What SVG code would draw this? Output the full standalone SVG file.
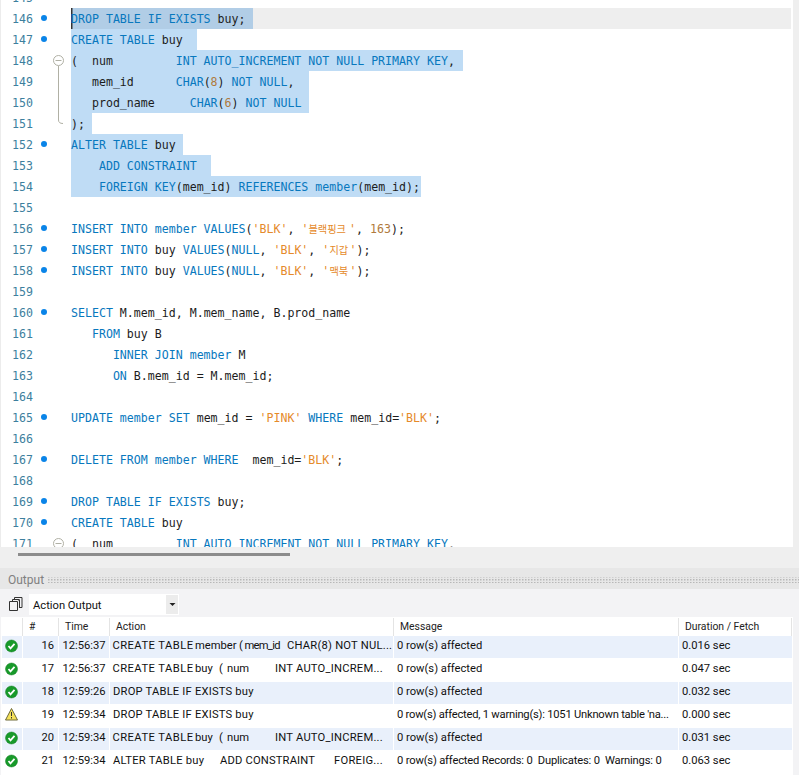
<svg xmlns="http://www.w3.org/2000/svg" width="799" height="775" viewBox="0 0 799 775">
<style>
text{white-space:pre}
.c{font-family:"DejaVu Sans Mono","Liberation Mono",monospace;font-size:11.6px;fill:#1c1c1c}
.k{fill:#0878be}
.d{fill:#1c1c1c}
.s{fill:#e58a2a}
.n{fill:#b07a3c}
.ko{font-family:"Noto Sans CJK KR",sans-serif;font-size:10.2px;fill:#e58a2a}
.ln{font-family:"DejaVu Sans Mono","Liberation Mono",monospace;font-size:11.6px;fill:#3d7f9e;text-anchor:end}
.u{font-family:Roboto,"Liberation Sans",Arial,sans-serif;font-size:11.2px;fill:#111}
.h{font-family:Roboto,"Liberation Sans",Arial,sans-serif;font-size:10.4px;fill:#222}
.r{text-anchor:end}
.sel{fill:#bfdcf5}
.dot{fill:#0a84e8}
.alt{fill:#e9f0fb}
.sep{fill:#fff}
.hs{fill:#e4e4e4}
</style>
<defs>
<clipPath id="ed"><rect x="0" y="0" width="793" height="547"/></clipPath>
<pattern id="dots" width="3" height="3" patternUnits="userSpaceOnUse"><rect width="1.500" height="1.500" fill="#b8b8b8"/></pattern>
<g id="ok"><circle cx="0" cy="0" r="6" fill="#189a2a" stroke="#0f7a1e" stroke-width="0.500"/><path d="M-3 0L-1 2.300L3 -2.200" fill="none" stroke="#fff" stroke-width="1.800"/></g>
</defs>
<rect width="799" height="775" fill="#f3f3f5"/>
<rect y="547" width="799" height="21" fill="#efefef"/>
<rect x="793" width="6" height="547" fill="#efefef"/>
<rect width="793" height="547" fill="#fff"/>
<rect width="1" height="547" fill="#ececec"/>
<g id="editor" clip-path="url(#ed)">
<rect x="71" y="8" width="720" height="21" fill="#eeeeee"/>
<rect x="71" y="8" width="182" height="21" fill="#b1cde6"/>
<rect class="sel" x="71" y="29" width="126" height="21"/>
<rect class="sel" x="71" y="50" width="392" height="21"/>
<rect class="sel" x="71" y="71" width="238" height="21"/>
<rect class="sel" x="71" y="92" width="238" height="21"/>
<rect class="sel" x="71" y="113" width="21" height="21"/>
<rect class="sel" x="71" y="134" width="112" height="21"/>
<rect class="sel" x="71" y="155" width="140" height="21"/>
<rect class="sel" x="71" y="176" width="350" height="21"/>
<rect x="71" y="8" width="1.500" height="21" fill="#333"/>
<g id="linenums">
<text class="ln" x="33" y="2">145</text>
<text class="ln" x="33" y="23">146</text><text class="ln" x="33" y="44">147</text><text class="ln" x="33" y="65">148</text><text class="ln" x="33" y="86">149</text><text class="ln" x="33" y="107">150</text><text class="ln" x="33" y="128">151</text><text class="ln" x="33" y="149">152</text><text class="ln" x="33" y="170">153</text><text class="ln" x="33" y="191">154</text><text class="ln" x="33" y="212">155</text><text class="ln" x="33" y="233">156</text><text class="ln" x="33" y="254">157</text><text class="ln" x="33" y="275">158</text><text class="ln" x="33" y="296">159</text><text class="ln" x="33" y="317">160</text><text class="ln" x="33" y="338">161</text><text class="ln" x="33" y="359">162</text><text class="ln" x="33" y="380">163</text><text class="ln" x="33" y="401">164</text><text class="ln" x="33" y="422">165</text><text class="ln" x="33" y="443">166</text><text class="ln" x="33" y="464">167</text><text class="ln" x="33" y="485">168</text><text class="ln" x="33" y="506">169</text><text class="ln" x="33" y="527">170</text><text class="ln" x="33" y="548">171</text>
</g>
<g id="dots-gutter">
<circle class="dot" cx="44" cy="18" r="3"/><circle class="dot" cx="44" cy="39" r="3"/><circle class="dot" cx="44" cy="144" r="3"/><circle class="dot" cx="44" cy="228" r="3"/><circle class="dot" cx="44" cy="249" r="3"/><circle class="dot" cx="44" cy="270" r="3"/><circle class="dot" cx="44" cy="312" r="3"/><circle class="dot" cx="44" cy="417" r="3"/><circle class="dot" cx="44" cy="459" r="3"/><circle class="dot" cx="44" cy="501" r="3"/><circle class="dot" cx="44" cy="522" r="3"/>
</g>
<g id="fold" fill="none" stroke="#b0b0a4">
<path d="M58.500 66V120Q58.500 123.500 63 123.500"/>
<circle cx="58.500" cy="60.500" r="5" fill="#fff"/><path d="M55.500 60.500H61.500"/>
<circle cx="58.500" cy="543.500" r="5" fill="#fff"/><path d="M55.500 543.500H61.500"/>
</g>
<g id="code" class="c">
<text x="71" y="23"><tspan class="k">DROP TABLE IF EXISTS</tspan> buy;</text>
<text x="71" y="44"><tspan class="k">CREATE TABLE</tspan> buy</text>
<text x="71" y="65">(  num         <tspan class="k">INT AUTO_INCREMENT NOT NULL PRIMARY KEY</tspan>,</text>
<text x="71" y="86">   mem_id      <tspan class="k">CHAR</tspan>(<tspan class="n">8</tspan>) <tspan class="k">NOT NULL</tspan>,</text>
<text x="71" y="107">   prod_name     <tspan class="k">CHAR</tspan>(<tspan class="n">6</tspan>) <tspan class="k">NOT NULL</tspan></text>
<text x="71" y="128">);</text>
<text x="71" y="149"><tspan class="k">ALTER TABLE</tspan> buy</text>
<text x="71" y="170" class="k">    ADD CONSTRAINT</text>
<text x="71" y="191">    <tspan class="k">FOREIGN KEY</tspan>(mem_id) <tspan class="k">REFERENCES member</tspan>(mem_id);</text>
<text x="71" y="233"><tspan class="k">INSERT INTO member VALUES</tspan>(<tspan class="s">'BLK'</tspan>, <tspan class="s">'</tspan></text>
<text class="ko" x="308.500" y="233">블랙핑크</text>
<text x="349" y="233"><tspan class="s">'</tspan>, <tspan class="n">163</tspan>);</text>
<text x="71" y="254"><tspan class="k">INSERT INTO</tspan> buy <tspan class="k">VALUES</tspan>(<tspan class="k">NULL</tspan>, <tspan class="s">'BLK'</tspan>, <tspan class="s">'</tspan></text>
<text class="ko" x="329.500" y="254">지갑</text>
<text x="349.500" y="254"><tspan class="s">'</tspan>);</text>
<text x="71" y="275"><tspan class="k">INSERT INTO</tspan> buy <tspan class="k">VALUES</tspan>(<tspan class="k">NULL</tspan>, <tspan class="s">'BLK'</tspan>, <tspan class="s">'</tspan></text>
<text class="ko" x="329.500" y="275">맥북</text>
<text x="349.500" y="275"><tspan class="s">'</tspan>);</text>
<text x="71" y="317"><tspan class="k">SELECT</tspan> M.mem_id, M.mem_name, B.prod_name</text>
<text x="71" y="338">   <tspan class="k">FROM</tspan> buy B</text>
<text x="71" y="359" class="k">      INNER JOIN member <tspan class="d">M</tspan></text>
<text x="71" y="380">      <tspan class="k">ON</tspan> B.mem_id = M.mem_id;</text>
<text x="71" y="422"><tspan class="k">UPDATE member SET</tspan> mem_id = <tspan class="s">'PINK'</tspan> <tspan class="k">WHERE</tspan> mem_id=<tspan class="s">'BLK'</tspan>;</text>
<text x="71" y="464"><tspan class="k">DELETE FROM member WHERE</tspan>  mem_id=<tspan class="s">'BLK'</tspan>;</text>
<text x="71" y="506"><tspan class="k">DROP TABLE IF EXISTS</tspan> buy;</text>
<text x="71" y="527"><tspan class="k">CREATE TABLE</tspan> buy</text>
<text x="71" y="548">(  num         <tspan class="k">INT AUTO_INCREMENT NOT NULL PRIMARY KEY</tspan>,</text>
</g>
</g>
<rect x="18" y="553" width="272" height="3" fill="#8c8c8c"/>
<g id="output-title">
<rect x="0" y="568" width="799" height="21" fill="#e7e7e7"/>
<text x="8" y="584" font-family="Roboto,Liberation Sans,Arial,sans-serif" font-size="12" fill="#808080">Output</text>
<rect x="47" y="577" width="752" height="6" fill="url(#dots)"/>
</g>
<g id="toolbar">
<path d="M9.500 601.500h8v9h-8zM12.500 601V599.500h6.500V601M14.500 599.500V597.500h7.500v10h-2.500M19.500 599.500V608" fill="none" stroke="#333"/>
<rect x="29" y="594" width="150" height="21" fill="#fff"/>
<rect x="166" y="595" width="12" height="19" fill="#ececec"/>
<path d="M169.500 603h6l-3 3z" fill="#222"/>
<text class="u" x="33" y="609">Action Output</text>
</g>
<g id="table">
<rect x="1" y="617" width="792" height="158" fill="#fff"/>
<rect class="alt" x="2" y="636" width="790" height="22"/>
<rect class="alt" x="2" y="682" width="790" height="22"/>
<rect class="alt" x="2" y="728" width="790" height="22"/>
<rect class="hs" x="22" y="618" width="1" height="18"/><rect class="hs" x="58" y="618" width="1" height="18"/><rect class="hs" x="109" y="618" width="1" height="18"/><rect class="hs" x="393" y="618" width="1" height="18"/><rect class="hs" x="678" y="618" width="1" height="18"/><rect class="hs" x="791" y="618" width="1" height="18"/>
<rect class="sep" x="22" y="636" width="1" height="114"/><rect class="sep" x="58" y="636" width="1" height="114"/><rect class="sep" x="109" y="636" width="1" height="114"/><rect class="sep" x="393" y="636" width="1" height="114"/><rect class="sep" x="678" y="636" width="1" height="114"/>
<text class="h" x="29" y="630">#</text><text class="h" x="65" y="630">Time</text><text class="h" x="116" y="630">Action</text><text class="h" x="400" y="630">Message</text><text class="h" x="685" y="630">Duration / Fetch</text>
<use href="#ok" x="11.500" y="646"/><use href="#ok" x="11.500" y="669"/><use href="#ok" x="11.500" y="692"/><use href="#ok" x="11.500" y="738"/><use href="#ok" x="11.500" y="761"/>
<path d="M11.500 708.500L17.500 720H5.500Z" fill="#f5e15a" stroke="#6e6a3a"/><path d="M11.500 712V716M11.500 717V718.500" stroke="#333"/>
</g>
<g id="rows">
<g id="row16"><text class="u r" x="54" y="649">16</text><text class="u" x="62.500" y="649">12:56:37</text><text class="u" x="112.500" y="649" textLength="80.500">CREATE TABLE</text><text class="u" x="195" y="649">member</text><text class="u" x="239" y="649">(</text><text class="u" x="244.500" y="649" textLength="36">mem_id</text><text class="u" x="287" y="649" textLength="105">CHAR(8) NOT NUL...</text><text class="u" x="397" y="649">0 row(s) affected</text><text class="u" x="682" y="649">0.016 sec</text></g>
<g id="row17"><text class="u r" x="54" y="672">17</text><text class="u" x="62.500" y="672">12:56:37</text><text class="u" x="112.500" y="672" textLength="80.500">CREATE TABLE</text><text class="u" x="195" y="672">buy</text><text class="u" x="219" y="672">(</text><text class="u" x="227" y="672">num</text><text class="u" x="275" y="672" textLength="107.700">INT AUTO_INCREM...</text><text class="u" x="397" y="672">0 row(s) affected</text><text class="u" x="682" y="672">0.047 sec</text></g>
<g id="row18"><text class="u r" x="54" y="695">18</text><text class="u" x="62.500" y="695">12:59:26</text><text class="u" x="113" y="695" textLength="140.500">DROP TABLE IF EXISTS buy</text><text class="u" x="397" y="695">0 row(s) affected</text><text class="u" x="682" y="695">0.032 sec</text></g>
<g id="row19"><text class="u r" x="54" y="718">19</text><text class="u" x="62.500" y="718">12:59:34</text><text class="u" x="113" y="718" textLength="140.500">DROP TABLE IF EXISTS buy</text><text class="u" x="397" y="718" textLength="272">0 row(s) affected, 1 warning(s): 1051 Unknown table 'na...</text><text class="u" x="682" y="718">0.000 sec</text></g>
<g id="row20"><text class="u r" x="54" y="741">20</text><text class="u" x="62.500" y="741">12:59:34</text><text class="u" x="112.500" y="741" textLength="80.500">CREATE TABLE</text><text class="u" x="195" y="741">buy</text><text class="u" x="219" y="741">(</text><text class="u" x="227" y="741">num</text><text class="u" x="275" y="741" textLength="107.700">INT AUTO_INCREM...</text><text class="u" x="397" y="741">0 row(s) affected</text><text class="u" x="682" y="741">0.031 sec</text></g>
<g id="row21"><text class="u r" x="54" y="764">21</text><text class="u" x="62.500" y="764">12:59:34</text><text class="u" x="113" y="764" textLength="91">ALTER TABLE buy</text><text class="u" x="220" y="764" textLength="95">ADD CONSTRAINT</text><text class="u" x="334" y="764" textLength="48.700">FOREIG...</text><text class="u" x="397" y="764" textLength="264.700">0 row(s) affected Records: 0  Duplicates: 0  Warnings: 0</text><text class="u" x="682" y="764">0.063 sec</text></g>
</g>
</svg>
